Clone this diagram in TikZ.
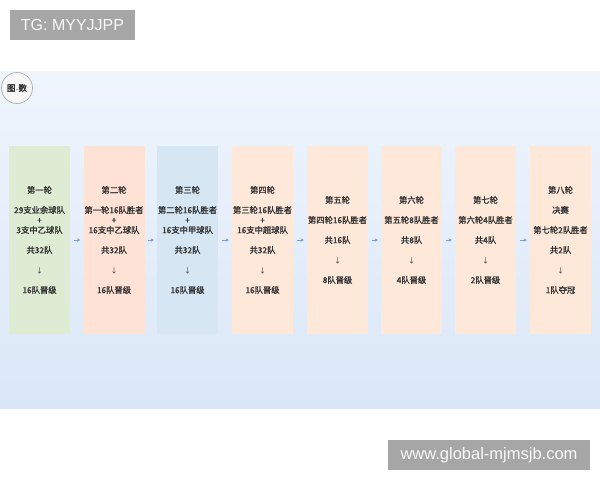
\documentclass[tikz,border=0pt]{standalone}
\usepackage{fontspec}
\setmainfont{Liberation Sans}
\newfontfamily\cjk{Noto Sans CJK SC}[FakeBold=1.6]
\newfontfamily\cjkthin{Noto Sans CJK SC}
\usetikzlibrary{arrows.meta}
\definecolor{panelTop}{HTML}{EEF5FD}
\definecolor{panelBot}{HTML}{DBE7F7}
\definecolor{boxGreen}{HTML}{DEECD4}
\definecolor{boxPink}{HTML}{FDE2D5}
\definecolor{boxBlue}{HTML}{D6E6F3}
\definecolor{boxPeach}{HTML}{FDE8DA}
\definecolor{txt}{HTML}{333333}
\definecolor{arr}{HTML}{7E9CC4}
\definecolor{wm}{HTML}{A6A6A6}
\newcommand{\dnarrow}{{\cjkthin\fontsize{7}{20}\selectfont ↓}}
\tikzset{
  stagebox/.style={minimum width=61pt, minimum height=188pt, inner sep=0pt,
    align=center, text=txt, font=\cjk\fontsize{8.3}{20}\selectfont},
  flowarrow/.style={draw=arr, line width=0.8pt, -{Stealth[length=3.2pt,width=3.4pt]}},
  watermark/.style={fill=wm, text=white!95!gray, inner sep=0pt, font=\fontsize{16}{18}\selectfont}
}
\begin{document}
\begin{tikzpicture}[x=1pt,y=-1pt]
\useasboundingbox (0,0) rectangle (600,480);
\fill[white] (0,0) rectangle (600,480);
% panel
\shade[top color=panelTop, bottom color=panelBot] (0,71) rectangle (600,408);
% icon
\node[circle, draw=gray!65, line width=0.7pt, fill=white!94!gray, minimum size=31pt, inner sep=0pt,
  font=\cjk\fontsize{8.5}{9}\selectfont, text=txt] (icon) at (17,88) {图\kern-0.5pt{\fontsize{4}{4}\selectfont·}\kern-0.5pt 数};
% boxes
\node[stagebox, fill=boxGreen] (b1) at (39.5,240) {第一轮\\29支业余球队\\[-10pt]+\\[-10pt]3支中乙球队\\共32队\\\dnarrow\\16队晋级};
\node[stagebox, fill=boxPink] (b2) at (114,240) {第二轮\\第一轮16队胜者\\[-10pt]+\\[-10pt]16支中乙球队\\共32队\\\dnarrow\\16队晋级};
\node[stagebox, fill=boxBlue] (b3) at (187.5,240) {第三轮\\第二轮16队胜者\\[-10pt]+\\[-10pt]16支中甲球队\\共32队\\\dnarrow\\16队晋级};
\node[stagebox, fill=boxPeach] (b4) at (262.5,240) {第四轮\\第三轮16队胜者\\[-10pt]+\\[-10pt]16支中超球队\\共32队\\\dnarrow\\16队晋级};
\node[stagebox, fill=boxPeach] (b5) at (337.5,240) {第五轮\\第四轮16队胜者\\共16队\\\dnarrow\\8队晋级};
\node[stagebox, fill=boxPeach] (b6) at (411.5,240) {第六轮\\第五轮8队胜者\\共8队\\\dnarrow\\4队晋级};
\node[stagebox, fill=boxPeach] (b7) at (485.5,240) {第七轮\\第六轮4队胜者\\共4队\\\dnarrow\\2队晋级};
\node[stagebox, fill=boxPeach] (b8) at (560.5,240) {第八轮\\决赛\\第七轮2队胜者\\共2队\\\dnarrow\\1队夺冠};
% arrows
\foreach \a/\b in {b1/b2,b2/b3,b3/b4,b4/b5,b5/b6,b6/b7,b7/b8}
  \draw[flowarrow] ([xshift=3.5pt]\a.east) -- ([xshift=-3pt]\b.west);
% watermarks
\node[watermark, minimum width=125pt, minimum height=30pt] (wm1) at (72.5,25) {TG: MYYJJPP};
\node[watermark, minimum width=202pt, minimum height=30pt, font=\fontsize{16.5}{18}\selectfont] (wm2) at (489,455) {www.global-mjmsjb.com};
\end{tikzpicture}
\end{document}
